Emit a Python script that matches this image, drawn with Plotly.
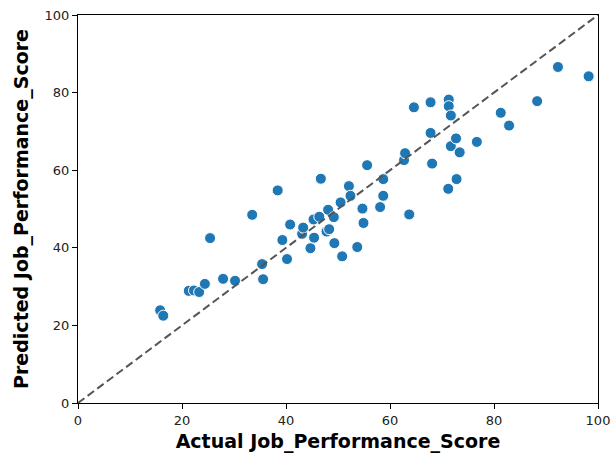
import plotly.graph_objects as go

# Actual vs. predicted job performance scores
actual = [15.8, 16.4, 21.3, 22.3, 23.3, 24.4, 25.4, 27.9, 30.2, 33.5,
          35.4, 35.6, 38.4, 39.3, 40.2, 40.8, 43.1, 43.3, 44.7, 45.4,
          45.3, 46.4, 46.7, 47.8, 48.3, 48.1, 49.2, 49.3, 50.5, 50.8,
          52.1, 52.4, 53.7, 54.7, 54.9, 55.6, 58.1, 58.7, 58.7, 62.7,
          62.9, 63.7, 64.6, 67.8, 67.8, 68.1, 71.2, 71.3, 71.3, 71.7,
          71.7, 72.7, 72.8, 73.4, 76.7, 81.3, 82.9, 88.3, 92.3, 98.2]
predicted = [23.9, 22.5, 28.9, 29.0, 28.6, 30.7, 42.5, 32.0, 31.5, 48.5,
             35.8, 31.9, 54.8, 42.0, 37.1, 46.0, 43.6, 45.2, 39.9, 42.6,
             47.3, 48.0, 57.8, 44.2, 44.8, 49.8, 47.9, 41.2, 51.7, 37.8,
             55.9, 53.4, 40.2, 50.1, 46.4, 61.3, 50.5, 53.4, 57.7, 62.6,
             64.4, 48.6, 76.2, 77.5, 69.6, 61.7, 55.2, 78.2, 76.5, 74.1,
             66.2, 68.2, 57.7, 64.6, 67.3, 74.8, 71.5, 77.8, 86.6, 84.2]
diag = [0, 100]

fig = go.Figure()
fig.add_trace(go.Scatter(
    x=actual, y=predicted, mode="markers",
    marker=dict(color="#1f77b4", size=11, line=dict(color="white", width=1)),
    showlegend=False,
))
fig.add_trace(go.Scatter(
    x=diag, y=diag, mode="lines",
    line=dict(color="#555555", width=2, dash="8px,4px"),
    showlegend=False,
))

axis_common = dict(
    range=[0, 100], dtick=20, showgrid=False, zeroline=False,
    showline=True, linecolor="black", linewidth=1.2, mirror=True,
    ticks="outside", ticklen=5, tickcolor="black", automargin=False,
    tickfont=dict(family="DejaVu Sans", size=13, color="#222222"),
)
fig.update_xaxes(
    **axis_common,
    title=dict(text="<b>Actual Job_Performance_Score</b>",
               font=dict(family="DejaVu Sans", size=19, color="black"),
               standoff=10),
)
fig.update_yaxes(
    **axis_common,
    title=dict(text="<b>Predicted Job_Performance_Score</b>",
               font=dict(family="DejaVu Sans", size=19, color="black"),
               standoff=10),
)
fig.update_layout(
    width=613, height=453,
    margin=dict(l=78, r=15, t=15, b=50),
    plot_bgcolor="white", paper_bgcolor="white",
)
fig.write_html("out.html")
